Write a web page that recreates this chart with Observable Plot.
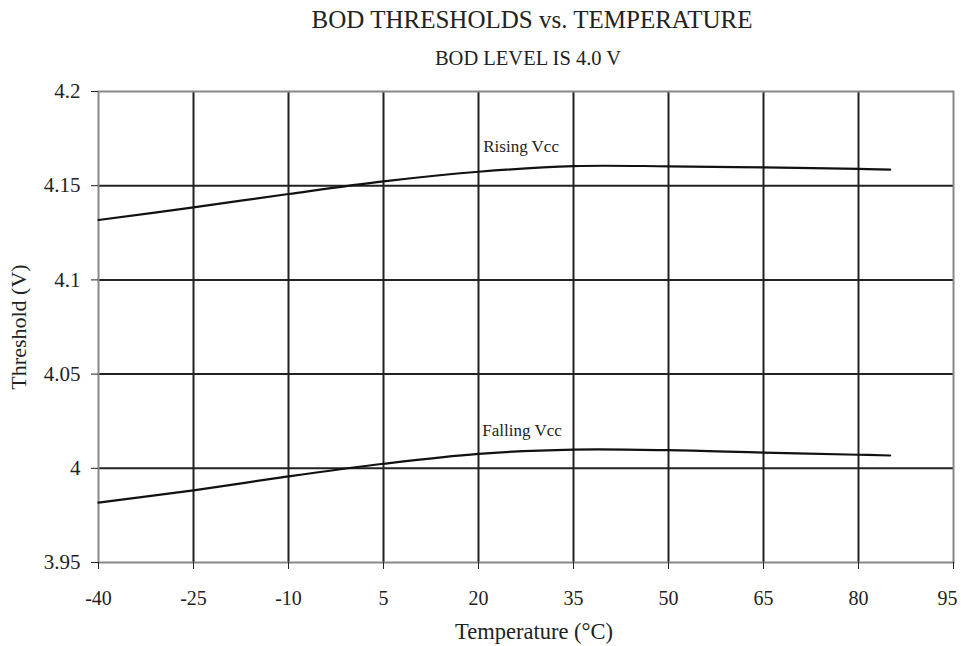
<!DOCTYPE html>
<html>
<head>
<meta charset="utf-8">
<script src="https://cdn.jsdelivr.net/npm/d3@7"></script>
<script src="https://cdn.jsdelivr.net/npm/@observablehq/plot@0.6"></script>
<style>
  html, body { margin: 0; padding: 0; background: #fff; overflow: hidden; }
  svg text { font-family: "Liberation Serif", "Times New Roman", serif; }
</style>
</head>
<body>
<div id="chart"></div>
<script>
const temperatures = [-40, -25, -10, 5, 20, 35, 50, 65, 80, 85];
const risingVcc  = [4.1318, 4.1385, 4.1456, 4.1523, 4.1574, 4.1604, 4.1603, 4.1597, 4.1589, 4.1585];
const fallingVcc = [3.9818, 3.9883, 3.9957, 4.0024, 4.0077, 4.0099, 4.0096, 4.0083, 4.0072, 4.0068];
const xTicks = [-40, -25, -10, 5, 20, 35, 50, 65, 80, 95];
const yTicks = [3.95, 4.0, 4.05, 4.1, 4.15, 4.2];
const yTickLabels = ["3.95", "4", "4.05", "4.1", "4.15", "4.2"];
const seriesLabels = ["Rising Vcc", "Falling Vcc"];
const labelX = [20.75, 20.6];
const labelY = [4.1677, 4.0174];
const titleText = "BOD THRESHOLDS vs. TEMPERATURE";
const subtitleText = "BOD LEVEL IS 4.0 V";
const xLabel = "Temperature (°C)";
const yLabel = "Threshold (V)";

const rising = temperatures.map((t, i) => ({t, v: risingVcc[i]}));
const falling = temperatures.map((t, i) => ({t, v: fallingVcc[i]}));
const labels = seriesLabels.map((s, i) => ({s, x: labelX[i], y: labelY[i]}));
const innerX = xTicks.slice(1, -1);
const innerY = yTicks.slice(1, -1);
const lastX = xTicks[xTicks.length - 1];

const ink = "#222";
const chart = Plot.plot({
  width: 961,
  height: 646,
  marginLeft: 98,
  marginRight: 8,
  marginTop: 91,
  marginBottom: 84,
  style: {fontFamily: '"Liberation Serif", "Times New Roman", serif', color: ink, background: "#fff"},
  x: {domain: [-40, 95]},
  y: {domain: [3.95, 4.2]},
  marks: [
    Plot.ruleX(innerX, {stroke: ink, strokeWidth: 2}),
    Plot.ruleY(innerY, {stroke: ink, strokeWidth: 2}),
    Plot.frame({stroke: "#888", strokeWidth: 2}),
    Plot.axisX({ticks: xTicks, tickSize: 7, tickPadding: 21, fontSize: 20, tickFormat: d => d === lastX ? "" : String(d), stroke: ink, label: null}),
    Plot.text([lastX], {x: d => d, frameAnchor: "bottom", dy: 28, dx: -6, lineAnchor: "top", text: d => String(d), fontSize: 20, fill: ink}),
    Plot.axisY({ticks: yTicks, tickSize: 7, tickPadding: 11, fontSize: 21, tickFormat: (d, i) => yTickLabels[i], stroke: ink, label: null}),
    Plot.line(rising, {x: "t", y: "v", curve: "catmull-rom", stroke: "#111", strokeWidth: 2.2}),
    Plot.line(falling, {x: "t", y: "v", curve: "catmull-rom", stroke: "#111", strokeWidth: 2.2}),
    Plot.text(labels, {x: "x", y: "y", text: "s", textAnchor: "start", lineAnchor: "bottom", fontSize: 17, fill: ink}),
    Plot.text([titleText], {frameAnchor: "top", dx: 6, dy: -64, fontSize: 25, fill: ink, lineAnchor: "bottom"}),
    Plot.text([subtitleText], {frameAnchor: "top", dx: 2, dy: -27, fontSize: 20.5, fill: ink, lineAnchor: "bottom"}),
    Plot.text([xLabel], {frameAnchor: "bottom", dx: 8, dy: 76, fontSize: 22.5, fill: ink, lineAnchor: "bottom"}),
    Plot.text([yLabel], {frameAnchor: "left", dx: -80, rotate: -90, textAnchor: "middle", fontSize: 22, fill: ink})
  ]
});
document.getElementById("chart").appendChild(chart);
</script>
</body>
</html>
